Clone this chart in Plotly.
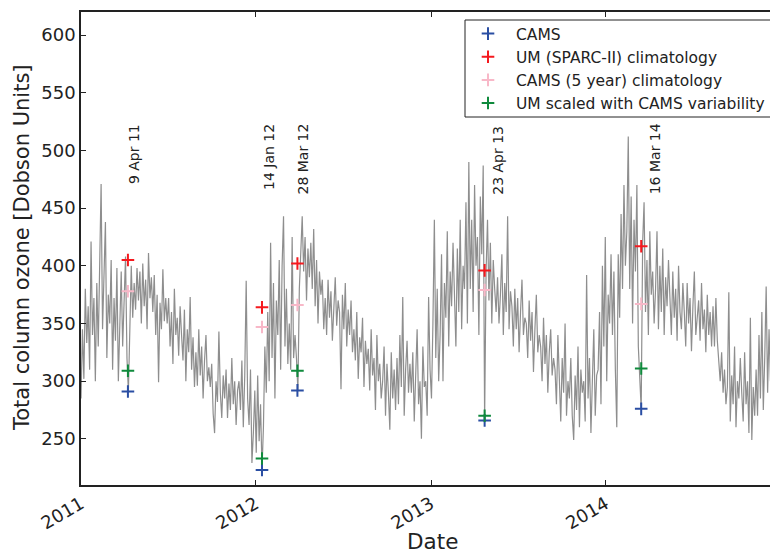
import numpy as np
import pandas as pd
import plotly.graph_objects as go

# ---------------- data ----------------
# Daily-ish total column ozone (sampled every 3 days from 2011-01-01), Dobson Units
ozone_2011 = [
    285, 345, 302, 380, 333, 365, 310, 421, 340, 372,
    300, 385, 330, 410, 471, 345, 390, 438, 320, 375,
    350, 405, 310, 372, 335, 398, 300, 360, 395, 330,
    365, 408, 320, 291, 345, 400, 355, 385, 362, 398,
    370, 395, 350, 402, 365, 388, 345, 411, 372, 390,
    360, 392, 340, 375, 299, 368, 345, 397, 352, 372,
    350, 372, 330, 360, 315, 380, 340, 355, 322, 365,
    340, 318, 362, 300, 345, 325, 373, 310, 338, 295,
    325, 296, 345, 305, 330, 285, 318, 340, 300, 312,
    295, 315, 272, 255, 300, 282, 343, 290, 268, 305,
    285, 310, 268, 298, 275, 320, 280, 300, 262, 292,
    300, 275, 318, 260, 305, 387, 285, 262, 310, 229,
]
ozone_2012 = [
    255, 292, 238, 305, 248, 280, 223, 260, 330, 290,
    360, 300, 420, 320, 385, 285, 370, 340, 405, 310,
    400, 443, 330, 380, 315, 350, 310, 425, 320, 340,
    320, 292, 380, 410, 443, 395, 425, 370, 415, 390,
    420, 380, 432, 365, 405, 350, 395, 375, 388, 345,
    372, 340, 388, 355, 378, 335, 365, 390, 348, 370,
    360, 293, 375, 345, 385, 330, 362, 340, 370, 325,
    345, 318, 360, 302, 338, 325, 355, 295, 335, 315,
    328, 292, 345, 305, 320, 275, 340, 300, 315, 285,
    300, 330, 270, 315, 290, 258, 325, 285, 310, 275,
    320, 280, 340, 295, 373, 270, 310, 335, 290, 315,
    290, 325, 265, 310, 345, 280, 300, 250, 330, 295,
    300, 270, 373, 310, 285, 350, 440, 320, 380, 300,
]
ozone_2013 = [
    340, 410, 300, 385, 355, 430, 330, 395, 365, 420,
    375, 330, 415, 360, 440, 345, 400, 380, 455, 350,
    490, 380, 440, 360, 470, 400, 425, 340, 460, 410,
    487, 266, 395, 440, 370, 420, 350, 405, 380, 360,
    390, 350, 375, 410, 340, 385, 360, 443, 345, 378,
    365, 330, 380, 345, 372, 325, 360, 388, 340, 355,
    350, 320, 370, 335, 360, 308, 345, 375, 325, 340,
    330, 300, 355, 315, 340, 290, 325, 345, 305, 320,
    310, 280, 340, 295, 265, 320, 290, 350, 270, 300,
    285, 320, 270, 249, 305, 275, 330, 260, 310, 290,
    300, 265, 392, 285, 320, 255, 310, 345, 270, 305,
    310, 360, 280, 400, 330, 425, 300, 375, 350, 410,
]
ozone_2014 = [
    340, 395, 310, 260, 410, 355, 445, 380, 470, 400,
    430, 512, 380, 460, 350, 440, 395, 470, 330, 300,
    276, 420, 455, 360, 405, 340, 430, 375, 395, 350,
    380, 430, 345, 400, 360, 415, 340, 390, 365, 405,
    370, 340, 395, 355, 380, 335, 400, 360, 345, 385,
    360, 330, 385, 350, 372, 326, 365, 395, 340, 355,
    370, 335, 385, 345, 362, 325, 375, 340, 360, 330,
    365, 330, 372, 335, 318, 300, 325, 290, 310, 280,
    295, 377, 265, 305, 280, 330, 260, 300, 285, 320,
    290, 265, 325, 280, 300, 255, 355, 249, 295, 270,
    310, 270, 340, 285, 360, 275, 320, 382, 290, 345,
    300, 355, 310,
]

event_dates = ["2011-04-09", "2012-01-14", "2012-03-28", "2013-04-23", "2014-03-16"]
event_labels = ["9 Apr 11", "14 Jan 12", "28 Mar 12", "23 Apr 13", "16 Mar 14"]
cams = [291, 223, 292, 266, 276]
um_sparc = [405, 364, 402, 396, 417]
cams_clim = [378, 347, 366, 379, 367]
um_scaled = [309, 233, 309, 270, 311]

year_ticks = ["2011-01-01", "2012-01-01", "2013-01-01", "2014-01-01"]
year_labels = ["2011", "2012", "2013", "2014"]
y_ticks = [250, 300, 350, 400, 450, 500, 550, 600]

# ---------------- figure ----------------
ozone = ozone_2011 + ozone_2012 + ozone_2013 + ozone_2014
dates = pd.Timestamp("2011-01-01") + pd.to_timedelta(np.arange(len(ozone)) * 3, unit="D")

FONT = "DejaVu Sans"
L, R_PX, T, B = 81, 770, 12, 485
W, H = 770, 556
PW, PH = R_PX - L, B - T


def px(xp):
    return (xp - L) / PW


def py(yp):
    return (B - yp) / PH


fig = go.Figure()
fig.add_trace(go.Scatter(x=dates, y=ozone, mode="lines",
                         line=dict(color="#8e8e8e", width=1.2), showlegend=False,
                         hoverinfo="skip"))

series = [
    ("CAMS", cams, "#2a4ea3"),
    ("UM (SPARC-II) climatology", um_sparc, "#f5191e"),
    ("CAMS (5 year) climatology", cams_clim, "#f8b8c8"),
    ("UM scaled with CAMS variability", um_scaled, "#0f8a3c"),
]
for i, (name, vals, col) in enumerate(series):
    fig.add_trace(go.Scatter(
        x=event_dates, y=vals, mode="markers", name=name, legendgroup=f"g{i}",
        marker=dict(symbol="cross-thin", size=9, line=dict(color=col, width=2), color=col)))

label_bottom = [469, 464, 460, 460, 460]
label_shift = [6, 7, 6, 13, 14]
for d, lab, yb, xs in zip(event_dates, event_labels, label_bottom, label_shift):
    fig.add_annotation(x=d, y=yb, xref="x", yref="y", text=lab, textangle=-90,
                       showarrow=False, xanchor="center", yanchor="bottom", xshift=xs,
                       font=dict(family=FONT, size=14, color="#222"))

# axis titles
fig.add_annotation(x=px(432), y=py(556), xref="paper", yref="paper", text="Date",
                   showarrow=False, xanchor="center", yanchor="bottom",
                   font=dict(family=FONT, size=21.5, color="#222"))
fig.add_annotation(x=px(22), y=py(248), xref="paper", yref="paper",
                   text="Total column ozone [Dobson Units]", textangle=-90,
                   showarrow=False, xanchor="center", yanchor="middle",
                   font=dict(family=FONT, size=21, color="#222"))

# legend frame
fig.add_shape(type="rect", xref="paper", yref="paper", x0=px(465), x1=px(790),
              y0=py(117), y1=py(20), line=dict(color="#222", width=1),
              fillcolor="white", layer="above")

fig.update_layout(
    width=W, height=H,
    margin=dict(l=L, r=W - R_PX, t=T, b=H - B, autoexpand=False),
    plot_bgcolor="white", paper_bgcolor="white",
    font=dict(family=FONT, color="#222"),
    legend=dict(x=px(460), y=py(17), xanchor="left", yanchor="top",
                bgcolor="rgba(0,0,0,0)", borderwidth=0, tracegroupgap=0,
                itemwidth=46,
                font=dict(family=FONT, size=15.5, color="#222")),
    xaxis=dict(type="date", range=["2011-01-01", "2014-12-10"],
               tickvals=year_ticks, ticktext=year_labels, tickangle=-30,
               ticks="inside", ticklen=5, tickcolor="#222", showline=True,
               linecolor="#222", linewidth=1.5, mirror="ticks", showgrid=False,
               zeroline=False, automargin=False,
               tickfont=dict(family=FONT, size=18, color="#222")),
    yaxis=dict(range=[210, 620], tickvals=y_ticks, ticks="inside", ticklen=5,
               tickcolor="#222", showline=True, linecolor="#222", linewidth=1.5,
               mirror=False, showgrid=False, zeroline=False, automargin=False,
               tickfont=dict(family=FONT, size=18, color="#222")),
)

fig.write_html("out.html")
